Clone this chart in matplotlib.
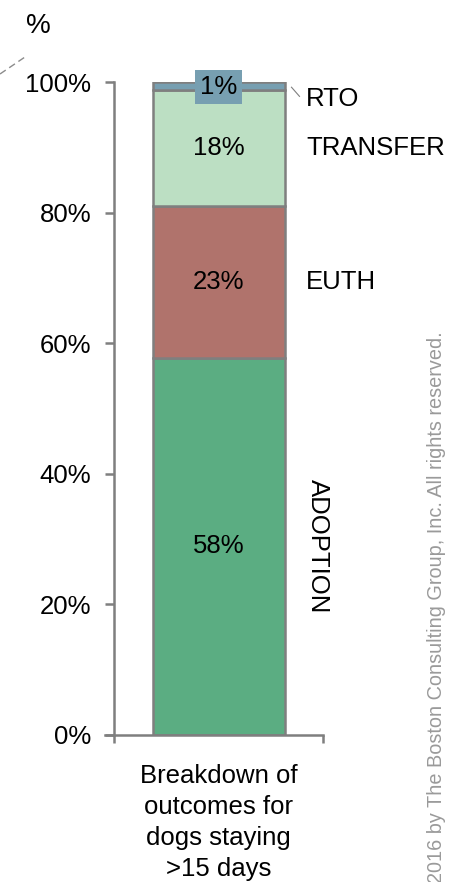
import matplotlib
matplotlib.use("Agg")
import matplotlib.pyplot as plt
from matplotlib.lines import Line2D

plt.rcParams['font.family'] = ['Liberation Sans', 'DejaVu Sans']

category = "Breakdown of\noutcomes for\ndogs staying\n>15 days"
segments = ["ADOPTION", "EUTH", "TRANSFER", "RTO"]
values = [57.8, 23.2, 17.8, 1.2]
value_labels = ["58%", "23%", "18%", "1%"]
colors = ["#5BAD82", "#B0736C", "#BCDFC3", "#779FB1"]
yticks = [0, 20, 40, 60, 80, 100]
ytick_labels = ["0%", "20%", "40%", "60%", "80%", "100%"]

W, H = 450, 882
fig = plt.figure(figsize=(W / 100, H / 100), dpi=100)
ax = fig.add_axes([114 / W, 1 - 735 / H, (323 - 114) / W, (735 - 82) / H])
ax.set_xlim(-0.5, 0.5)
ax.set_ylim(0, 100)

FS = 18.5
bw = 132 / 209
bottom = 0
for seg, v, lab, c in zip(segments, values, value_labels, colors):
    ax.bar(0, v, width=bw, bottom=bottom, color=c, edgecolor="#7F7F7F", linewidth=1.8, zorder=2)
    mid = bottom + v / 2
    if seg == "RTO":
        ax.text(0, mid - 0.2, lab, ha="center", va="center", fontsize=FS,
                bbox=dict(boxstyle="square,pad=0.2", fc=c, ec="none"), zorder=3)
    else:
        ax.text(0, mid, lab, ha="center", va="center", fontsize=FS, zorder=3)
    bottom += v

# right side labels
cum = 0
mids = []
for v in values:
    mids.append(cum + v / 2)
    cum += v
xr = 0.5 + (306 - 323) / 209
ax.text(xr, mids[1], "EUTH", ha="left", va="center", fontsize=FS)
ax.text(xr, mids[2], "TRANSFER", ha="left", va="center", fontsize=FS)
ax.text(xr, 97.4, "RTO", ha="left", va="center", fontsize=FS)
ax.plot([bw / 2 + 7 / 209, bw / 2 + 15 / 209], [99.2, 97.8], color="#7F7F7F", lw=0.8, clip_on=False)
ax.text(0.5 + (318 - 323) / 209, mids[0], "ADOPTION", rotation=-90, ha="center", va="center", fontsize=FS)

for s in ["top", "right"]:
    ax.spines[s].set_visible(False)
for s in ["left", "bottom"]:
    ax.spines[s].set_color("#7F7F7F")
    ax.spines[s].set_linewidth(1.8)
ax.spines["bottom"].set_bounds(-0.5 - 9 / 209, 0.5)

ax.set_yticks(yticks)
ax.set_yticklabels(ytick_labels, fontsize=FS)
ax.tick_params(axis="y", direction="out", length=6.5, width=1.8, color="#7F7F7F", pad=10)

ax.set_xticks([0])
ax.set_xticklabels([category], fontsize=FS, linespacing=1.36)
ax.tick_params(axis="x", which="major", length=0, pad=21)
ax.set_xticks([-0.5, 0.5], minor=True)
ax.tick_params(axis="x", which="minor", direction="out", length=6, width=1.8, color="#7F7F7F")

fig.text(38 / W, 1 - 26 / H, "%", ha="center", va="center", fontsize=20)
fig.add_artist(Line2D([0, 25 / W], [1 - 74 / H, 1 - 57 / H], color="#8C8C8C", lw=1, ls=(0, (5, 3))))
fig.text(437 / W, 1 - 607 / H, "2016 by The Boston Consulting Group, Inc. All rights reserved.",
         rotation=90, ha="center", va="center", fontsize=14.3, color="#9A9A9A")

fig.savefig("out.png", dpi=100)
